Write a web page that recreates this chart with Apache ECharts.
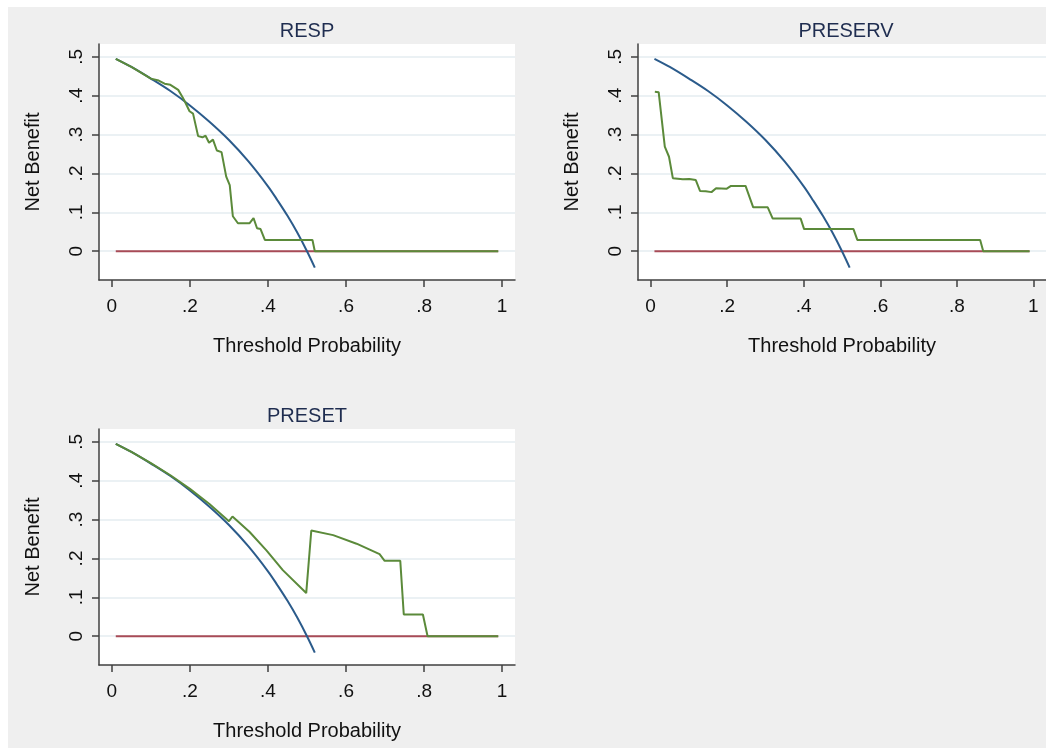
<!DOCTYPE html>
<html>
<head>
<meta charset="utf-8">
<script src="https://cdn.jsdelivr.net/npm/echarts@6/dist/echarts.min.js"></script>
<style>
  html, body { margin: 0; padding: 0; background: #fff; }
  #chart { width: 1046px; height: 748px; background: #efefef; box-shadow: inset 8px 7px 0 0 #fff; }
</style>
</head>
<body>
<div id="chart"></div>
<script>
var panel_titles = ['RESP', 'PRESERV', 'PRESET']
var x_ticks = [0, 0.2, 0.4, 0.6, 0.8, 1]
var y_ticks = [0, 0.1, 0.2, 0.3, 0.4, 0.5]

// treat none
var none_x = [0.01, 0.99]
var none_y = [0, 0]

// treat all, same curve in every panel
var all_x = [0.01, 0.05, 0.1, 0.15, 0.2, 0.25, 0.3, 0.35, 0.4, 0.425, 0.45, 0.475, 0.5, 0.52]
var all_y = [0.495, 0.474, 0.444, 0.412, 0.375, 0.333, 0.286, 0.231, 0.167, 0.13, 0.091, 0.048, 0, -0.042]

// model curves
var resp_x = [0.01, 0.05, 0.1, 0.12, 0.135, 0.15, 0.17, 0.18, 0.187, 0.199, 0.208, 0.221, 0.232, 0.24, 0.249, 0.259,
  0.269, 0.281, 0.293, 0.302, 0.31, 0.323, 0.353, 0.363, 0.372, 0.381, 0.392, 0.514, 0.52, 0.99]
var resp_y = [0.495, 0.474, 0.444, 0.439, 0.431, 0.428, 0.415, 0.398, 0.385, 0.36, 0.354, 0.296, 0.293, 0.297, 0.279, 0.287,
  0.259, 0.255, 0.192, 0.17, 0.09, 0.072, 0.072, 0.085, 0.059, 0.057, 0.029, 0.029, 0, 0]

var preserv_x = [0.011, 0.021, 0.037, 0.048, 0.058, 0.084, 0.101, 0.118, 0.129, 0.144, 0.159, 0.171, 0.199, 0.21, 0.248,
  0.268, 0.306, 0.319, 0.392, 0.401, 0.53, 0.54, 0.861, 0.869, 0.99]
var preserv_y = [0.41, 0.409, 0.269, 0.243, 0.188, 0.185, 0.186, 0.183, 0.155, 0.154, 0.152, 0.162, 0.161, 0.168, 0.168,
  0.113, 0.113, 0.084, 0.084, 0.057, 0.057, 0.029, 0.029, 0, 0]

var preset_x = [0.01, 0.05, 0.1, 0.15, 0.2, 0.25, 0.3, 0.309, 0.353, 0.396, 0.438, 0.498, 0.511, 0.567, 0.627, 0.686,
  0.699, 0.739, 0.748, 0.797, 0.809, 0.99]
var preset_y = [0.495, 0.474, 0.445, 0.414, 0.379, 0.34, 0.296, 0.308, 0.268, 0.221, 0.17, 0.111, 0.272, 0.26, 0.238, 0.211,
  0.194, 0.194, 0.056, 0.056, 0, 0]

var model_x = [resp_x, preserv_x, preset_x]
var model_y = [resp_y, preserv_y, preset_y]

var font = "'Liberation Sans', Arial, sans-serif"
var grid_pos = [
  { left: 99, top: 44, width: 416, height: 236 },
  { left: 638, top: 44, width: 415, height: 236 },
  { left: 99, top: 429, width: 416, height: 236 }
]

function pairs(xs, ys) {
  return xs.map((x, i) => [x, ys[i]])
}

function tick_text(v) {
  if (v === 0 || v === 1) return String(v)
  return String(+v.toFixed(2)).replace(/^0/, '')
}

function line_series(idx, data, color, width, smooth) {
  return {
    type: 'line',
    xAxisIndex: idx,
    yAxisIndex: idx,
    data: data,
    showSymbol: false,
    smooth: smooth ? 0.35 : false,
    animation: false,
    silent: true,
    lineStyle: { color: color, width: width }
  }
}

var grids = [], xAxes = [], yAxes = [], series = [], texts = []
grid_pos.forEach((p, i) => {
  grids.push(Object.assign({ show: true, backgroundColor: '#fff', borderWidth: 0 }, p))
  xAxes.push({
    type: 'value',
    gridIndex: i,
    min: -0.033,
    max: 1.033,
    name: 'Threshold Probability',
    nameLocation: 'middle',
    nameGap: 56,
    nameTextStyle: { color: '#111', fontSize: 20, fontFamily: font },
    axisLine: { onZero: false, lineStyle: { color: '#404040', width: 1.5 } },
    axisTick: { customValues: x_ticks, length: 7, lineStyle: { color: '#404040', width: 1.5 } },
    axisLabel: { customValues: x_ticks, formatter: tick_text, margin: 17, color: '#111', fontSize: 19, fontFamily: font },
    splitLine: { show: false }
  })
  yAxes.push({
    type: 'value',
    gridIndex: i,
    min: -0.074,
    max: 0.533,
    name: 'Net Benefit',
    nameLocation: 'middle',
    nameGap: 56,
    nameTextStyle: { color: '#111', fontSize: 20, fontFamily: font },
    axisLine: { show: true, onZero: false, lineStyle: { color: '#404040', width: 1.5 } },
    axisTick: { show: true, customValues: y_ticks, length: 7, lineStyle: { color: '#404040', width: 1.5 } },
    axisLabel: { customValues: y_ticks, formatter: tick_text, rotate: 90, margin: 13, color: '#111', fontSize: 19, fontFamily: font },
    splitLine: { show: true, lineStyle: { color: '#e4edf0', width: 1.5 } }
  })
  series.push(line_series(i, pairs(none_x, none_y), '#a84b57', 2.2, false))
  series.push(line_series(i, pairs(all_x, all_y), '#2b5b8b', 2, true))
  series.push(line_series(i, pairs(model_x[i], model_y[i]), '#5b8a3a', 2, false))
  texts.push({
    type: 'text',
    x: p.left + 208,
    y: p.top - 13,
    style: { text: panel_titles[i], fill: '#1f2d50', fontSize: 20, fontFamily: font, align: 'center', verticalAlign: 'middle' }
  })
})

var myChart = echarts.init(document.querySelector('#chart'))
myChart.setOption({
  animation: false,
  grid: grids,
  xAxis: xAxes,
  yAxis: yAxes,
  series: series,
  graphic: texts
})
</script>
</body>
</html>
